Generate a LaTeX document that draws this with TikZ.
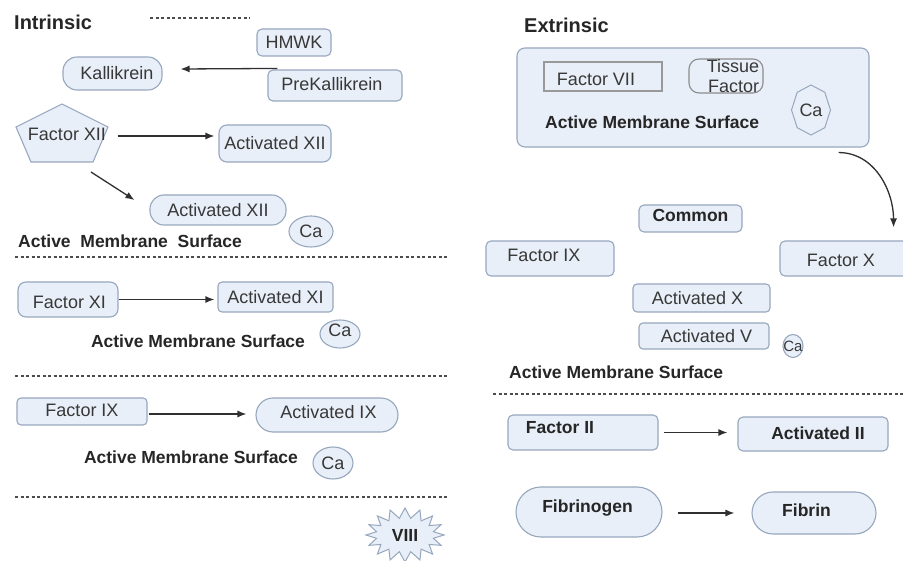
\documentclass[tikz,border=0pt]{standalone}
\usepackage{fontspec}
\setmainfont{Liberation Sans}
\usetikzlibrary{arrows.meta,shapes.geometric}
\definecolor{bfill}{HTML}{E8EFF8}
\definecolor{bdraw}{HTML}{97A7BE}
\definecolor{txtc}{HTML}{383838}
\definecolor{arrc}{HTML}{303030}
\begin{document}
\begin{tikzpicture}[x=1pt,y=-1pt,
  every node/.style={font=\fontsize{18}{21}\selectfont, text=txtc},
  rb/.style={draw=bdraw, fill=bfill, line width=1.1pt, inner sep=0pt, rounded corners=#1},
  rb/.default=5pt,
  cae/.style={ellipse, draw=bdraw, fill=bfill, line width=1.1pt, inner sep=0pt},
  bt/.style={font=\fontsize{17.5}{20}\selectfont\bfseries, text=black!85},
  ttl/.style={font=\fontsize{20}{22}\selectfont\bfseries, text=black!85, anchor=west, inner sep=0pt},
  arr/.style={draw=arrc, line width=1.3pt, -{Latex[length=9pt,width=7pt]}},
  dl/.style={draw=black!70, line width=1.2pt, dash pattern=on 3pt off 2.5pt},
  ]
\useasboundingbox[fill=white] (0,0) rectangle (903,561);

% ---------------- Intrinsic ----------------
\node[ttl] (intr) at (14,22) {Intrinsic};
\draw[dl] (150,18) -- (250,18);
\node[rb, minimum width=74pt, minimum height=27pt, label={center:HMWK}] (hmwk) at (294,42.5) {};
\node[rb=14pt, minimum width=99pt, minimum height=33pt, label={[xshift=4.5pt]center:Kallikrein}] (kal) at (112.5,73.5) {};
\node[rb, minimum width=134pt, minimum height=31pt, label={[xshift=-3pt,yshift=1.5pt]center:PreKallikrein}] (pk) at (335,85.5) {};
\draw[arr] ([xshift=10pt,yshift=1pt]pk.north west) -- ([xshift=18pt,yshift=4.5pt]kal.east);

\filldraw[draw=bdraw, fill=bfill, line width=1.1pt] (62,104) -- (108,127) -- (93,162) -- (31,162) -- (16,127) -- cycle;
\node (f12) at (67,134) {Factor XII};
\node[rb=8pt, minimum width=112pt, minimum height=37pt, label={center:Activated XII}] (a12a) at (275,143.5) {};
\draw[arr] ([xshift=8pt,yshift=-2pt]f12.east) -- ([xshift=-4pt,yshift=7.5pt]a12a.west);
\node[rb=14pt, minimum width=136pt, minimum height=30pt, label={center:Activated XII}] (a12b) at (218,210) {};
\coordinate (p12) at (91,172);
\draw[arr] (p12) -- ([xshift=-15pt,yshift=10pt]a12b.west);
\node[cae, minimum width=44pt, minimum height=31pt] (ca1) at (311,231.5) {Ca};
\node[bt, anchor=west, inner sep=0pt] (ams1) at (18,241) {Active\ \ Membrane\ \ Surface};
\draw[dl] (15,257) -- (447,257);

\node[rb=8pt, minimum width=100pt, minimum height=35pt, label={[xshift=1.5pt,yshift=-2.5pt]center:Factor XI}] (f11) at (68,299.5) {};
\node[rb=4pt, minimum width=115pt, minimum height=30pt, label={center:Activated XI}] (a11) at (275.5,297) {};
\draw[arr] (f11.east) -- ([xshift=-3pt,yshift=-2.5pt]a11.west);
\node[bt] (ams2) at (198,341) {Active Membrane Surface};
\node[cae, minimum width=40pt, minimum height=28pt, label={[yshift=4pt]center:Ca}] (ca2) at (340,334) {};
\draw[dl] (15,376) -- (447,376);

\node[rb=4pt, minimum width=130pt, minimum height=27pt, label={[yshift=1.5pt]center:Factor IX}] (f9l) at (82,411.5) {};
\node[rb=17pt, minimum width=142pt, minimum height=34pt, label={[xshift=1.5pt,yshift=3pt]center:Activated IX}] (a9) at (327,415) {};
\draw[arr] ([xshift=1pt,yshift=-2.5pt]f9l.east) -- ([xshift=-9pt,yshift=1pt]a9.west);
\node[bt] (ams3) at (191,457) {Active Membrane Surface};
\node[cae, minimum width=40pt, minimum height=32pt] (ca3) at (333,463) {Ca};
\draw[dl] (15,497) -- (447,497);

\filldraw[draw=bdraw, fill=bfill, line width=1pt, shift={(405,535)}]
  plot[samples=33, domain=0:32, variable=\k]
  ({ifthenelse(mod(round(\k),2)==0,39,29)*cos(\k*11.25)},
   {ifthenelse(mod(round(\k),2)==0,27,17)*sin(\k*11.25)}) -- cycle;
\node[bt] (viii) at (405,535) {VIII};

% ---------------- Extrinsic ----------------
\node[ttl] (extr) at (524,25) {Extrinsic};
\node[rb=8pt, minimum width=352pt, minimum height=99pt] (ext) at (693,97.5) {};
\node[rb=0pt, draw=black!40, minimum width=118pt, minimum height=29pt, label={[xshift=-7pt,yshift=-3pt]center:Factor VII}] (f7) at (603,76.5) {};
\node[rb=10pt, draw=black!45, minimum width=74pt, minimum height=34pt, label={[xshift=7pt,align=right,font=\fontsize{18}{20}\selectfont]center:Tissue\\Factor}] (tf) at (726,76) {};
\filldraw[draw=bdraw, fill=bfill, line width=1pt, shift={(811,110)}]
  (0,-25) -- (13.8,-17.7) -- (19.5,0) -- (13.8,17.7) -- (0,25) -- (-13.8,17.7) -- (-19.5,0) -- (-13.8,-17.7) -- cycle;
\node (ca4) at (811,110) {Ca};
\node[bt, anchor=west, inner sep=0pt] (ams4) at (545,122) {Active Membrane Surface};

\node[rb, minimum width=135pt, minimum height=35pt, label={[xshift=-6.5pt,yshift=-1.5pt]center:Factor X}] (fx) at (847.5,258.5) {};
\draw[arr] ([xshift=-31pt,yshift=-5pt]ext.south east) to[out=0,in=90] ([xshift=-22pt,yshift=13pt]fx.north east);

\node[rb, minimum width=103pt, minimum height=27pt, label={[bt,yshift=3.5pt]center:Common}] (common) at (690.5,218.5) {};
\node[rb, minimum width=128pt, minimum height=35pt, label={[xshift=-6pt,yshift=3.5pt]center:Factor IX}] (f9r) at (550,258.5) {};
\node[rb=4pt, minimum width=137pt, minimum height=28pt, label={[xshift=-4pt]center:Activated X}] (ax) at (701.5,298) {};
\node[rb=4pt, minimum width=130pt, minimum height=26pt, label={[xshift=2.5pt]center:Activated V}] (av) at (704,336) {};
\draw[draw=bdraw, fill=bfill, line width=1.1pt] (793,346) ellipse [x radius=10, y radius=11.5];
\node[font=\fontsize{15}{15}\selectfont, inner sep=0pt] (ca5) at (793,346) {Ca};
\node[bt, anchor=west, inner sep=0pt] (ams5) at (509,372) {Active Membrane Surface};
\draw[dl] (493,394) -- (905,394);

\node[rb, minimum width=150pt, minimum height=35pt, label={[bt,xshift=-23pt,yshift=4.5pt]center:Factor II}] (f2) at (583,432.5) {};
\node[rb, minimum width=150pt, minimum height=34pt, label={[bt,xshift=5pt,yshift=1pt]center:Activated II}] (a2) at (813,434) {};
\draw[arr] ([xshift=5pt]f2.east) -- ([xshift=-10pt,yshift=1.5pt]a2.west);
\node[rb=25pt, minimum width=146pt, minimum height=50pt, label={[bt,xshift=-1.5pt,yshift=4pt]center:Fibrinogen}] (fib) at (589,512) {};
\node[rb=21pt, minimum width=124pt, minimum height=42pt, label={[bt,xshift=-7.5pt,yshift=3pt]center:Fibrin}] (fibr) at (814,513) {};
\draw[arr] ([xshift=15pt,yshift=-1pt]fib.east) -- ([xshift=-17pt]fibr.west);
\end{tikzpicture}
\end{document}
